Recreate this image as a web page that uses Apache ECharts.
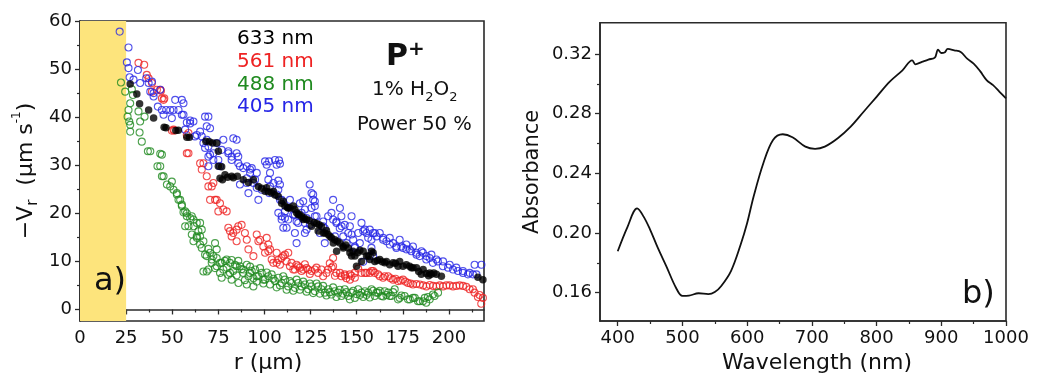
<!DOCTYPE html>
<html>
<head>
<meta charset="utf-8">
<script src="https://cdn.jsdelivr.net/npm/echarts@6/dist/echarts.min.js"></script>
<style>
html,body{margin:0;padding:0;background:#fff;}
#c{width:1046px;height:379px;}
</style>
</head>
<body>
<div id="c"></div>
<script>
// ---------- Panel a) : -Vr vs r ----------
const seriesNames = ['633 nm', '561 nm', '488 nm', '405 nm'];
const seriesColors = ['#000000', '#ee2222', '#1f8a1f', '#2626e6'];

const pts633 = [[27.2,46.9],[30.8,44.8],[32.3,42.8],[37.2,41.5],[39.9,39.8],[45.6,37.9],[46.6,37.8],[51.9,37.2],[53.3,37.3],[57.9,35.8],[59.3,35.8],[68.2,35.0],[70.1,34.9],[71.9,34.6],[74.1,34.6],[75.0,32.9],[75.0,29.8],[76.8,29.7],[75.9,27.3],[77.2,27.0],[78.6,28.0],[80.0,27.5],[82.2,27.7],[83.1,27.4],[85.3,27.7],[88.5,27.0],[91.3,26.4],[94.0,27.0],[96.7,25.6],[98.5,25.2],[100.3,24.6],[101.2,25.3],[102.1,24.5],[103.9,24.2],[104.8,24.6],[105.7,23.8],[107.5,23.5],[109.3,22.1],[110.2,22.5],[111.1,21.5],[112.5,21.2],[112.9,21.1],[113.8,21.1],[115.6,21.5],[116.5,20.8],[117.4,20.1],[118.3,19.7],[118.8,19.8],[120.1,19.4],[121.0,18.7],[121.5,19.0],[122.8,18.7],[124.2,18.5],[125.5,17.3],[126.9,18.1],[128.2,17.9],[129.1,16.3],[129.6,17.6],[130.9,17.3],[131.9,15.9],[132.7,15.9],[133.6,16.4],[134.5,15.6],[135.5,15.2],[136.3,14.9],[137.3,13.8],[138.1,14.5],[139.1,12.1],[139.5,14.2],[140.8,13.8],[142.6,13.1],[142.7,12.8],[144.0,13.4],[145.4,12.8],[146.3,11.8],[147.2,11.1],[148.0,12.1],[149.0,11.1],[149.9,9.0],[150.5,11.8],[151.7,12.3],[152.6,10.0],[153.5,12.1],[155.3,11.1],[156.2,11.1],[157.1,10.4],[158.0,12.1],[158.9,11.8],[159.8,10.0],[161.2,10.2],[162.5,10.4],[163.8,9.9],[165.2,9.7],[166.1,10.0],[167.9,9.3],[169.7,9.7],[171.0,9.6],[172.4,9.0],[173.3,10.0],[175.1,9.0],[176.9,9.3],[178.7,9.0],[179.6,8.7],[180.5,8.7],[182.4,8.7],[183.6,7.9],[185.0,7.3],[186.0,8.3],[187.7,7.5],[189.0,7.0],[189.6,7.6],[190.4,7.3],[191.8,7.6],[193.2,7.3],[195.9,6.9],[215.7,6.7],[218.4,6.2]];

const pts561 = [[31.7,51.3],[34.8,50.9],[36.2,48.8],[37.2,48.1],[39.0,47.1],[39.0,45.3],[41.7,45.7],[43.5,45.7],[43.9,45.5],[44.4,43.9],[45.3,43.6],[45.7,43.9],[49.8,37.2],[50.7,37.4],[51.1,37.2],[57.9,36.3],[58.8,36.7],[57.9,32.5],[58.8,32.5],[65.1,30.4],[66.0,29.1],[66.9,30.4],[68.7,27.7],[69.6,25.6],[71.4,25.6],[72.3,26.3],[70.5,22.8],[73.2,22.8],[74.1,22.8],[75.0,20.4],[75.9,22.1],[77.7,20.8],[79.5,20.4],[80.4,17.0],[81.3,16.3],[82.2,15.2],[83.1,15.9],[84.9,14.2],[84.9,16.6],[85.8,17.3],[87.6,17.6],[89.4,15.9],[90.4,14.5],[91.3,12.5],[94.0,11.1],[95.8,15.6],[96.7,14.2],[97.6,14.5],[99.4,13.1],[100.3,11.8],[101.2,14.9],[102.1,12.1],[102.1,13.5],[103.0,12.5],[103.9,10.4],[104.8,9.7],[106.6,11.8],[106.6,9.7],[107.5,10.3],[108.4,9.3],[109.3,10.7],[110.2,11.1],[111.1,11.4],[112.0,10.0],[112.9,11.8],[113.8,9.0],[114.7,9.7],[115.6,8.3],[116.5,8.3],[117.4,9.3],[118.3,9.0],[119.2,8.7],[120.1,8.0],[121.0,8.3],[121.9,9.4],[122.8,8.6],[123.7,8.3],[124.6,7.4],[125.5,8.0],[127.3,8.3],[128.2,8.7],[129.1,7.6],[130.9,8.3],[131.8,6.9],[133.6,7.6],[134.5,8.3],[135.4,9.6],[136.4,8.7],[137.2,10.7],[137.2,9.0],[138.2,7.0],[139.0,7.6],[140.9,7.6],[141.7,6.9],[143.5,7.3],[143.6,7.0],[144.4,6.5],[146.3,7.3],[146.3,6.2],[147.2,7.0],[148.9,7.6],[149.0,6.6],[150.8,8.5],[152.6,7.6],[154.4,7.6],[155.3,7.6],[157.1,7.6],[158.0,8.0],[158.9,8.0],[159.8,7.6],[161.6,7.3],[162.5,6.9],[164.3,6.6],[165.2,6.9],[167.0,6.9],[168.4,6.5],[169.7,6.2],[171.0,6.4],[172.4,5.9],[173.8,6.0],[175.1,6.2],[176.4,5.8],[177.8,5.5],[179.2,5.4],[180.5,5.2],[182.3,5.3],[184.2,5.2],[186.0,5.0],[187.8,4.8],[189.6,5.1],[191.4,4.9],[193.2,4.8],[195.0,5.0],[196.8,4.8],[198.6,5.0],[200.4,5.0],[202.2,4.8],[204.0,4.9],[205.8,5.0],[207.6,4.9],[209.4,4.7],[211.2,4.2],[213.0,4.2],[213.9,3.5],[215.7,2.6],[216.6,3.0],[217.5,1.2],[218.4,2.4]];

const pts488 = [[22.2,47.2],[24.5,45.3],[28.1,45.8],[28.7,44.6],[27.2,42.9],[26.3,41.5],[25.8,40.1],[26.7,39.1],[27.2,38.4],[27.2,37.0],[31.7,41.2],[32.6,39.1],[32.3,36.8],[33.5,34.9],[35.0,40.1],[36.8,32.9],[38.1,32.9],[43.5,32.4],[44.4,32.2],[42.0,29.8],[43.5,29.8],[44.4,27.7],[45.3,27.7],[47.1,26.0],[48.9,25.6],[49.8,26.6],[50.7,24.9],[52.5,24.2],[52.5,23.9],[53.4,22.8],[54.3,22.8],[55.2,21.8],[55.2,21.5],[56.1,20.2],[57.0,20.4],[57.9,19.4],[57.9,20.0],[58.8,17.3],[59.7,19.0],[60.6,19.4],[61.5,18.7],[57.0,17.3],[61.6,17.3],[63.3,18.0],[64.2,16.3],[65.1,15.2],[65.1,18.0],[66.0,16.6],[63.3,15.2],[61.5,14.2],[65.1,13.5],[66.9,14.2],[60.6,15.6],[63.3,14.9],[66.0,12.8],[67.8,11.4],[68.7,11.1],[68.7,7.9],[69.6,8.3],[66.9,7.9],[69.6,12.6],[70.5,11.8],[71.4,10.4],[72.3,11.1],[73.2,13.8],[74.1,12.5],[71.4,9.7],[73.2,8.6],[74.1,10.7],[74.1,9.0],[75.9,9.7],[75.9,7.6],[76.8,6.6],[76.8,9.7],[77.7,8.3],[78.6,10.1],[79.5,10.4],[79.5,8.7],[80.4,7.2],[81.3,7.6],[81.3,9.7],[82.2,6.2],[82.2,10.3],[83.1,8.0],[84.0,9.3],[84.9,9.0],[84.9,7.1],[85.9,5.5],[85.8,10.1],[86.7,9.0],[87.6,8.4],[88.6,8.3],[88.5,7.6],[89.4,6.1],[90.4,5.2],[90.4,9.3],[91.3,6.9],[92.2,7.6],[92.2,8.9],[93.1,8.0],[94.0,4.8],[94.0,6.5],[94.9,8.3],[95.8,6.9],[95.8,5.8],[96.7,6.9],[97.6,8.6],[98.5,7.6],[99.4,6.2],[99.4,5.4],[100.3,6.2],[101.2,7.7],[102.1,6.9],[103.0,5.2],[103.9,7.3],[104.8,6.4],[105.7,5.9],[106.6,4.6],[107.5,6.6],[108.4,5.0],[109.3,5.5],[110.2,6.9],[111.1,6.2],[112.0,4.1],[112.9,4.8],[113.8,5.9],[114.7,5.5],[115.6,3.9],[116.5,4.5],[117.4,6.2],[118.3,5.5],[119.2,4.1],[120.1,4.8],[121.0,5.8],[121.9,5.2],[122.8,3.7],[123.7,4.2],[124.6,5.4],[125.5,4.8],[126.4,3.4],[127.3,3.8],[128.2,5.4],[129.1,4.8],[130.0,3.3],[130.9,4.2],[131.8,4.9],[132.7,3.5],[133.6,2.9],[134.5,4.2],[135.4,3.6],[136.3,3.1],[137.2,4.6],[138.1,3.8],[139.0,2.6],[139.9,3.5],[140.8,4.1],[141.7,2.8],[142.6,3.3],[143.5,4.2],[144.4,3.6],[145.4,2.8],[146.3,2.1],[147.2,3.5],[148.1,3.9],[149.0,2.4],[149.9,3.2],[150.8,4.2],[151.7,3.0],[152.6,3.5],[153.5,2.6],[154.4,3.8],[155.3,3.0],[156.2,3.5],[157.1,2.5],[158.0,4.2],[158.9,3.9],[159.8,2.8],[160.7,3.5],[161.6,3.5],[162.5,3.9],[163.4,2.8],[164.3,2.7],[165.2,3.8],[166.1,3.0],[167.0,3.5],[167.9,2.8],[168.8,2.8],[169.7,3.6],[170.6,4.2],[172.4,2.1],[173.3,2.4],[174.2,2.9],[176.0,2.8],[177.8,2.1],[178.8,2.1],[180.5,2.4],[181.5,2.4],[183.2,1.7],[184.2,1.7],[185.9,1.7],[186.9,2.4],[187.7,1.4],[188.6,2.6],[189.6,2.1],[191.3,3.1],[192.2,2.8],[194.1,3.5]];

const pts405 = [[21.5,57.8],[26.3,54.5],[25.4,51.4],[26.3,50.2],[26.9,48.3],[29.0,47.8],[31.4,49.8],[32.6,47.1],[35.9,48.1],[37.2,47.1],[38.1,45.3],[39.0,47.4],[39.9,45.0],[39.9,44.3],[42.2,42.2],[43.5,45.7],[44.4,41.5],[45.3,40.5],[46.7,41.5],[48.9,41.5],[49.8,39.8],[50.7,41.5],[51.6,43.6],[53.4,41.5],[55.2,43.6],[56.1,42.9],[55.2,40.5],[56.1,40.5],[57.0,37.4],[59.7,39.3],[57.9,38.9],[59.7,38.7],[61.5,39.1],[62.3,36.0],[63.3,36.3],[65.1,37.0],[66.0,36.0],[67.8,40.1],[69.6,40.1],[68.7,38.1],[70.5,37.7],[68.7,35.3],[66.9,34.6],[67.8,33.6],[69.6,33.9],[70.5,32.2],[72.3,32.5],[72.3,31.1],[69.6,29.8],[69.6,31.8],[74.1,34.6],[75.0,31.1],[75.9,29.8],[76.8,33.2],[77.7,35.3],[80.4,32.9],[80.4,32.5],[82.2,31.8],[82.2,31.1],[83.1,35.6],[84.9,35.3],[84.9,32.5],[85.8,30.4],[85.8,31.8],[86.7,26.0],[86.7,29.8],[88.5,29.4],[90.4,29.8],[90.4,26.3],[90.4,27.3],[92.2,28.4],[92.2,29.1],[93.1,29.4],[91.3,24.2],[94.0,26.3],[94.9,27.0],[95.8,25.3],[95.8,28.4],[96.7,22.8],[98.5,24.9],[100.3,30.8],[101.2,30.1],[102.5,30.8],[102.1,27.0],[102.5,24.2],[103.0,28.4],[104.8,26.3],[105.7,31.1],[106.6,30.1],[106.6,23.9],[107.5,26.8],[107.9,31.0],[107.5,24.9],[108.4,30.3],[108.4,26.0],[103.0,25.6],[108.4,22.8],[109.3,22.8],[107.5,20.1],[109.3,18.7],[109.3,19.4],[111.1,19.0],[111.1,20.4],[110.2,17.0],[112.0,17.0],[112.9,18.7],[113.8,22.8],[115.6,19.7],[116.5,19.7],[116.5,15.9],[117.4,13.8],[117.4,18.3],[118.3,18.0],[119.2,22.1],[120.1,20.1],[121.0,22.5],[121.9,20.8],[121.9,18.0],[121.9,15.9],[122.8,16.6],[122.8,19.0],[124.5,26.0],[124.6,17.6],[125.5,24.2],[125.5,21.1],[126.4,23.9],[126.4,22.8],[127.3,22.5],[127.3,21.5],[127.3,19.4],[128.2,19.4],[130.0,15.9],[131.8,18.3],[131.8,17.3],[132.7,16.9],[132.7,13.8],[134.5,19.4],[136.3,20.1],[137.2,22.8],[137.2,18.7],[138.2,15.2],[139.0,18.3],[139.0,18.0],[140.8,16.9],[140.9,21.1],[141.7,19.4],[141.8,17.3],[142.7,15.2],[143.5,17.6],[144.5,13.8],[145.4,15.9],[146.3,17.3],[147.2,19.4],[147.2,15.6],[148.1,14.5],[149.0,12.8],[149.0,13.1],[150.8,15.9],[151.7,13.8],[152.6,18.0],[153.5,16.3],[153.5,9.9],[154.4,16.6],[155.3,15.9],[156.2,14.9],[157.1,16.6],[157.1,11.1],[158.0,14.5],[158.0,12.8],[158.9,15.9],[158.9,11.1],[159.8,15.9],[160.7,15.2],[162.5,15.9],[164.3,14.5],[164.3,14.9],[166.1,14.2],[167.9,13.5],[167.9,14.9],[169.7,13.8],[171.5,12.8],[171.5,13.1],[173.3,14.5],[174.2,13.1],[175.1,12.8],[176.9,12.5],[176.9,13.5],[178.7,12.5],[179.6,12.1],[180.5,13.1],[182.3,11.8],[182.4,11.4],[184.1,11.1],[185.1,12.1],[185.9,11.8],[187.7,10.4],[187.8,11.1],[189.5,10.7],[190.5,11.4],[191.3,9.7],[193.2,10.4],[194.0,10.0],[196.7,9.0],[196.8,10.0],[199.5,8.7],[200.4,9.3],[202.2,8.3],[204.0,8.7],[204.9,8.0],[207.6,7.6],[207.6,8.0],[210.3,7.3],[211.2,7.6],[213.0,7.3],[213.9,9.3],[214.9,7.3],[217.6,9.3]];

const xTicksA = [0, 25, 50, 75, 100, 125, 150, 175, 200];
const xMinorA = [12.5, 37.5, 62.5, 87.5, 112.5, 137.5, 162.5, 187.5, 212.5];
const yTicksA = [0, 10, 20, 30, 40, 50, 60];
const yMinorA = [5, 15, 25, 35, 45, 55];
const bandA = [0, 25];

// ---------- Panel b) : Absorbance vs wavelength ----------
const wavelength = [400,415,430,440,450,462,475,490,500,510,525,540,550,560,575,590,600,610,625,640,655,670,690,705,720,740,760,780,800,820,840,855,860,870,880,890,895,900,905,910,920,930,940,950,960,970,980,990,1000];
const absorbance = [0.1878,0.2040,0.2165,0.2110,0.2023,0.1900,0.1778,0.1633,0.1578,0.1580,0.1596,0.1590,0.1604,0.1645,0.1745,0.1923,0.2067,0.2245,0.2468,0.2624,0.2662,0.2642,0.2579,0.2564,0.2579,0.2635,0.2713,0.2813,0.2913,0.3013,0.3091,0.3158,0.3131,0.3147,0.3163,0.3176,0.3229,0.3207,0.3210,0.3234,0.3225,0.3214,0.3169,0.3136,0.3085,0.3025,0.2991,0.2947,0.2902];
const xTicksB = [400, 500, 600, 700, 800, 900, 1000];
const xMinorB = [450, 550, 650, 750, 850, 950];
const yTicksB = [0.16, 0.20, 0.24, 0.28, 0.32];
const yMinorB = [0.18, 0.22, 0.26, 0.30];

const FONT = "'DejaVu Sans', sans-serif";
const AX = '#2a2a2a';

function axisBase(extra) {
  return Object.assign({
    type: 'value',
    splitLine: { show: false },
    axisLine: { show: true, lineStyle: { color: AX, width: 1.6 } },
    axisTick: { show: true, inside: false, length: 5, lineStyle: { color: AX, width: 1.3 } },
    axisLabel: { color: '#111', fontSize: 18, fontFamily: FONT },
    nameTextStyle: { color: '#111', fontSize: 22, fontFamily: FONT }
  }, extra);
}
function majorAxis(extra, ticks, fmt) {
  const a = axisBase(extra);
  a.axisLabel = Object.assign({}, a.axisLabel, { customValues: ticks, margin: 8, formatter: fmt || (v => String(v)) });
  a.axisTick = Object.assign({}, a.axisTick, { customValues: ticks });
  return a;
}
function minorAxis(extra, ticks) {
  const a = axisBase(extra);
  a.axisLine = { show: false };
  a.axisLabel = { show: false };
  a.axisTick = { show: true, inside: false, length: 3, customValues: ticks, lineStyle: { color: AX, width: 1.2 } };
  return a;
}

const openCircle = (name, data, color, z) => ({
  name, type: 'scatter', data, xAxisIndex: 0, yAxisIndex: 0, z,
  symbol: 'circle', symbolSize: 7,
  itemStyle: { color: 'rgba(255,255,255,0)', borderColor: color, borderWidth: 1.1 },
  emphasis: { disabled: true }
});

const option = {
  animation: false,
  backgroundColor: '#ffffff',
  grid: [
    { left: 80, top: 21, width: 404, height: 300.7, show: true, borderColor: AX, borderWidth: 1.6, backgroundColor: 'rgba(0,0,0,0)' },
    { left: 600, top: 22.7, width: 406, height: 299, show: true, borderColor: AX, borderWidth: 1.6, backgroundColor: 'rgba(0,0,0,0)' }
  ],
  xAxis: [
    majorAxis({ gridIndex: 0, min: 0, max: 219, position: 'bottom', name: 'r (μm)', nameLocation: 'middle', nameGap: 31,
      nameTextStyle: { color: '#111', fontSize: 22, fontFamily: FONT, padding: [0, 28, 0, 0] } }, xTicksA),
    minorAxis({ gridIndex: 0, min: 0, max: 219, position: 'bottom' }, xMinorA),
    majorAxis({ gridIndex: 1, min: 372.6, max: 1000, position: 'bottom', name: 'Wavelength (nm)', nameLocation: 'middle', nameGap: 31,
      nameTextStyle: { color: '#111', fontSize: 22, fontFamily: FONT, padding: [0, 0, 0, 28] } }, xTicksB),
    minorAxis({ gridIndex: 1, min: 372.6, max: 1000, position: 'bottom' }, xMinorB)
  ],
  yAxis: [
    majorAxis({ gridIndex: 0, min: -2.4, max: 60, position: 'left',
      name: '{m|−V}{sub|r}{m|  (μm s}{sup|-1}{m|)}', nameLocation: 'middle', nameGap: 39, nameRotate: 90,
      nameTextStyle: { color: '#111', fontSize: 22, fontFamily: FONT,
        rich: {
          m: { fontSize: 22, fontFamily: FONT, color: '#111', lineHeight: 30 },
          sub: { fontSize: 15, fontFamily: FONT, color: '#111', lineHeight: 14, verticalAlign: 'bottom' },
          sup: { fontSize: 12, fontFamily: FONT, color: '#111', lineHeight: 14, verticalAlign: 'top' }
        } } }, yTicksA),
    minorAxis({ gridIndex: 0, min: -2.4, max: 60, position: 'left' }, yMinorA),
    majorAxis({ gridIndex: 1, min: 0.141, max: 0.341, position: 'left', name: 'Absorbance', nameLocation: 'middle', nameGap: 57, nameRotate: 90,
      nameTextStyle: { color: '#111', fontSize: 21, fontFamily: FONT } }, yTicksB, v => v.toFixed(2)),
    minorAxis({ gridIndex: 1, min: 0.141, max: 0.341, position: 'left' }, yMinorB)
  ],
  series: [
    openCircle(seriesNames[1], pts561, seriesColors[1], 3),
    openCircle(seriesNames[2], pts488, seriesColors[2], 3),
    openCircle(seriesNames[3], pts405, seriesColors[3], 4),
    {
      name: seriesNames[0], type: 'scatter', data: pts633, xAxisIndex: 0, yAxisIndex: 0, z: 5,
      symbol: 'circle', symbolSize: 7.5, itemStyle: { color: seriesColors[0] },
      emphasis: { disabled: true },
      markArea: {
        silent: true,
        itemStyle: { color: '#fde47c', opacity: 1 },
        data: [[{ xAxis: bandA[0] }, { xAxis: bandA[1] }]]
      }
    },
    {
      name: 'Absorbance', type: 'line', data: wavelength.map((w, i) => [w, absorbance[i]]),
      xAxisIndex: 2, yAxisIndex: 2, showSymbol: false, smooth: 0.35,
      lineStyle: { color: '#111', width: 1.8 }
    }
  ],
  graphic: [
    ...seriesNames.map((n, i) => ({
      type: 'text', x: 237, y: 39 + i * 22.7, z: 10,
      style: { text: n, fill: seriesColors[i], font: '20px ' + FONT, align: 'left', verticalAlign: 'middle', textAlign: 'left', textVerticalAlign: 'middle' }
    })),
    { type: 'text', x: 386, y: 57, z: 10,
      style: { text: '{b|P}{p|+}', align: 'left', verticalAlign: 'middle', textAlign: 'left', textVerticalAlign: 'middle',
        rich: { b: { fontSize: 30, fontWeight: 'bold', fontFamily: FONT, fill: '#111', lineHeight: 34 },
                p: { fontSize: 20, fontWeight: 'bold', fontFamily: FONT, fill: '#111', lineHeight: 22, verticalAlign: 'top' } } } },
    { type: 'text', x: 372, y: 90, z: 10,
      style: { text: '{m|1% H}{s|2}{m|O}{s|2}', align: 'left', verticalAlign: 'middle', textAlign: 'left', textVerticalAlign: 'middle',
        rich: { m: { fontSize: 20, fontFamily: FONT, fill: '#111', lineHeight: 28 },
                s: { fontSize: 13, fontFamily: FONT, fill: '#111', lineHeight: 14, verticalAlign: 'bottom' } } } },
    { type: 'text', x: 357, y: 125, z: 10,
      style: { text: 'Power 50 %', fill: '#111', font: '19.5px ' + FONT, align: 'left', verticalAlign: 'middle', textAlign: 'left', textVerticalAlign: 'middle' } },
    { type: 'text', x: 94, y: 282, z: 10,
      style: { text: 'a)', fill: '#111', font: '32px ' + FONT, align: 'left', verticalAlign: 'middle', textAlign: 'left', textVerticalAlign: 'middle' } },
    { type: 'text', x: 962, y: 295, z: 10,
      style: { text: 'b)', fill: '#111', font: '32px ' + FONT, align: 'left', verticalAlign: 'middle', textAlign: 'left', textVerticalAlign: 'middle' } }
  ]
};

const chart = echarts.init(document.getElementById('c'), null, { renderer: 'canvas' });
chart.setOption(option);
</script>
</body>
</html>
